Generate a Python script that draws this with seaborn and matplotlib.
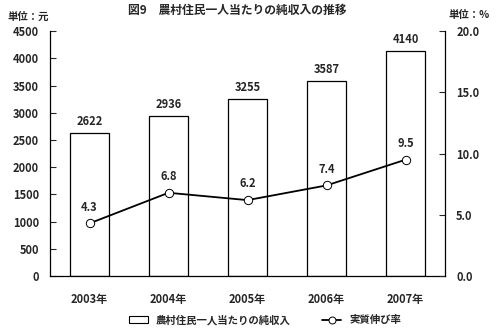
import matplotlib
matplotlib.use("Agg")
import matplotlib.pyplot as plt
import seaborn as sns
import pandas as pd
from matplotlib.patches import Patch
from matplotlib.lines import Line2D
from matplotlib.ticker import FixedLocator

sns.set_style("white")
plt.rcParams['font.family'] = ['Noto Sans CJK JP', 'DejaVu Sans']

years = ["2003年", "2004年", "2005年", "2006年", "2007年"]
income = [2622, 2936, 3255, 3587, 4140]
growth = [4.3, 6.8, 6.2, 7.4, 9.5]
left_ticks = [0, 500, 1000, 1500, 2000, 2500, 3000, 3500, 4000, 4500]
right_ticks = [0.0, 5.0, 10.0, 15.0, 20.0]

df = pd.DataFrame({"year": years, "income": income, "growth": growth})

fig = plt.figure(figsize=(5, 3.35), dpi=100)
ax = fig.add_axes([0.1, 0.176, 0.79, 0.731])

sns.barplot(data=df, x="year", y="income", ax=ax, color="white",
            edgecolor="black", linewidth=0.9, width=0.5)
ax.set_ylim(0, 4500)
ax.set_xlim(-0.5, 4.5)
ax.set_yticks(left_ticks)
ax.set_yticklabels([str(t) for t in left_ticks], fontsize=8, fontweight="bold")
ax.set_xticks(range(len(years)))
ax.set_xticklabels(years, fontsize=8, fontweight="bold")
ax.tick_params(axis="x", length=0, pad=12)
ax.xaxis.set_minor_locator(FixedLocator([0.5, 1.5, 2.5, 3.5]))
ax.tick_params(axis="x", which="minor", direction="in", length=5, width=0.8)
ax.tick_params(axis="y", direction="in", length=4, width=0.8, pad=8, left=True)
ax.set_xlabel("")
ax.set_ylabel("")
for s in ["left", "bottom"]:
    ax.spines[s].set_color("black")
    ax.spines[s].set_linewidth(0.9)
ax.spines["top"].set_visible(False)
ax.spines["right"].set_visible(False)

for i, v in enumerate(income):
    ax.text(i, v + 90, str(v), ha="center", va="bottom", fontsize=8, fontweight="bold")

ax2 = ax.twinx()
sns.lineplot(data=df, x="year", y="growth", ax=ax2, color="black", linewidth=1.3,
             marker="o", markersize=6, markerfacecolor="white",
             markeredgecolor="black", markeredgewidth=0.7)
ax2.set_ylim(0, 20)
ax2.set_yticks(right_ticks)
ax2.set_yticklabels([f"{t:.1f}" for t in right_ticks], fontsize=8, fontweight="bold")
ax2.tick_params(axis="y", direction="in", length=4, width=0.8, pad=8, right=True)
ax2.set_ylabel("")
ax2.set_xlabel("")
for s in ["left", "top", "bottom"]:
    ax2.spines[s].set_visible(False)
ax2.spines["right"].set_color("black")
ax2.spines["right"].set_linewidth(0.9)

for i, v in enumerate(growth):
    ax2.text(i, v + 0.8, f"{v:.1f}", ha="center", va="bottom", fontsize=8, fontweight="bold")

fig.text(0.475, 0.97, "図9　農村住民一人当たりの純収入の推移", ha="center", va="center",
         fontsize=8.5, fontweight="bold")
fig.text(0.015, 0.95, "単位：元", ha="left", va="center", fontsize=7.5, fontweight="bold")
fig.text(0.98, 0.955, "単位：%", ha="right", va="center", fontsize=7.5, fontweight="bold")

handles = [Patch(facecolor="white", edgecolor="black", linewidth=0.8),
           Line2D([0], [0], color="black", linewidth=1.3, marker="o", markersize=5,
                  markerfacecolor="white", markeredgecolor="black", markeredgewidth=0.7)]
labels = ["農村住民一人当たりの純収入", "実質伸び率"]
fig.legend(handles, labels, loc="center", bbox_to_anchor=(0.53, 0.045), ncol=2,
           frameon=False, handlelength=1.8, columnspacing=3.0,
           prop={"weight": "bold", "size": 7.5})

fig.savefig("out.png", dpi=100)
